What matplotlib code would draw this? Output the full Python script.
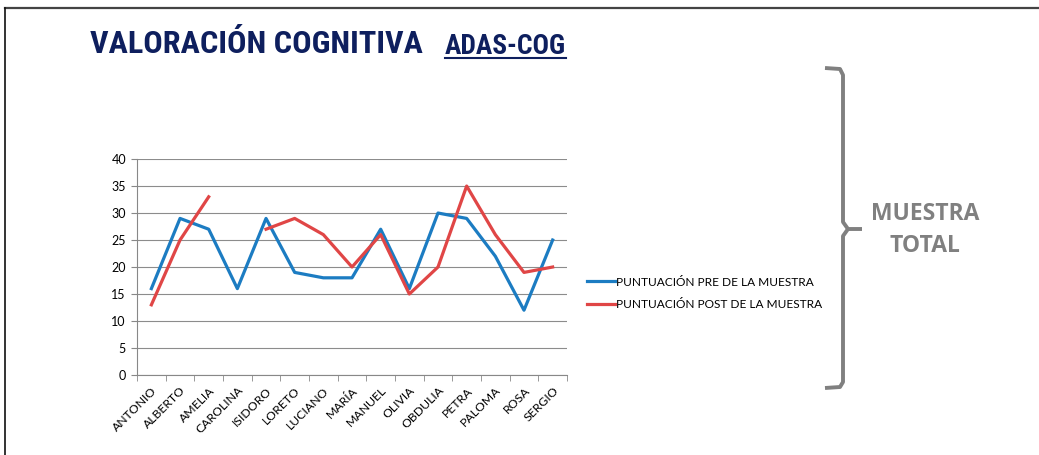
import matplotlib
matplotlib.use("Agg")
import matplotlib.pyplot as plt
import numpy as np
from matplotlib.lines import Line2D
from matplotlib import font_manager

categories = ["ANTONIO", "ALBERTO", "AMELIA", "CAROLINA", "ISIDORO", "LORETO",
              "LUCIANO", "MARÍA", "MANUEL", "OLIVIA", "OBDULIA", "PETRA",
              "PALOMA", "ROSA", "SERGIO"]
pre_values = [16, 29, 27, 16, 29, 19, 18, 18, 27, 16, 30, 29, 22, 12, 25]
post_values = [13, 25, 33, np.nan, 27, 29, 26, 20, 26, 15, 20, 35, 26, 19, 20]
y_ticks = [0, 5, 10, 15, 20, 25, 30, 35, 40]
pre_label = "PUNTUACIÓN PRE DE LA MUESTRA"
post_label = "PUNTUACIÓN POST DE LA MUESTRA"
title_main = "VALORACIÓN COGNITIVA"
title_sub = "ADAS-COG"
side_lines = ["MUESTRA", "TOTAL"]

body_font = ["Lato", "DejaVu Sans"]

# pick a condensed bold font if one is installed
names = {f.name for f in font_manager.fontManager.ttflist}
cond_entries = [f for f in font_manager.fontManager.ttflist
                if str(f.stretch) in ("condensed", "semi-condensed", "extra-condensed")]
title_family = None
title_stretch = "normal"
for cand in ["Liberation Sans Narrow", "Roboto Condensed", "DejaVu Sans Condensed",
             "Open Sans Condensed", "Arial Narrow"]:
    if cand in names:
        title_family = cand
        break
if title_family is None:
    for pref in ["Roboto", "Open Sans", "DejaVu Sans", "Liberation Sans"]:
        if any(f.name == pref for f in cond_entries):
            title_family = pref
            title_stretch = "condensed"
            break
if title_family is None:
    title_family = "Liberation Sans"

fig = plt.figure(figsize=(10.39, 4.55), dpi=100)
fig.patch.set_facecolor("white")

ax = fig.add_axes([0.1319, 0.1758, 0.4138, 0.4747])
x = np.arange(len(categories))
ax.plot(x, pre_values, color="#1C7CC2", lw=2.3, label=pre_label)
ax.plot(x, post_values, color="#E04646", lw=2.3, label=post_label)

ax.set_xlim(-0.5, len(categories) - 0.5)
ax.set_ylim(0, 40)
ax.set_yticks(y_ticks)
ax.set_yticklabels([str(v) for v in y_ticks], fontsize=9, family=body_font)
ax.set_xticks(x)
ax.set_xticklabels(categories, rotation=45, ha="right", rotation_mode="anchor",
                   fontsize=8.8, family=body_font)
ax.set_xticks(np.arange(-0.5, len(categories)), minor=True)
ax.tick_params(axis="x", which="major", length=0, pad=7)
ax.tick_params(axis="x", which="minor", length=4, color="#888888", direction="out")
ax.tick_params(axis="y", length=4, color="#888888", direction="out", pad=4)
ax.grid(axis="y", color="#8c8c8c", lw=0.8)
ax.set_axisbelow(True)
for s in ["top", "right"]:
    ax.spines[s].set_visible(False)
for s in ["left", "bottom"]:
    ax.spines[s].set_color("#888888")
    ax.spines[s].set_linewidth(0.8)

handles = [Line2D([0], [0], color="#1C7CC2", lw=2.3),
           Line2D([0], [0], color="#E04646", lw=2.3)]
fig.legend(handles, [pre_label, post_label], loc="center left",
           bbox_to_anchor=(0.555, 0.355), frameon=False,
           prop={"family": body_font, "size": 8.6},
           handlelength=2.3, handletextpad=0.1, labelspacing=1.0)

# Title, fitted to the reference width
navy = "#0E1F5E"
t1 = fig.text(90 / 1039, 1 - 44 / 455, title_main, fontsize=27, fontweight="bold",
              color=navy, family=title_family, stretch=title_stretch,
              ha="left", va="center")
t2 = fig.text(445 / 1039, 1 - 46 / 455, title_sub, fontsize=18, fontweight="bold",
              color=navy, family=title_family, stretch=title_stretch,
              ha="left", va="center")
fig.canvas.draw()
r = fig.canvas.get_renderer()
w1 = t1.get_window_extent(r).width
t1.set_fontsize(27 * 332 / w1)
w2 = t2.get_window_extent(r).width
t2.set_fontsize(18 * 121 / w2)
fig.add_artist(Line2D([445 / 1039, 566 / 1039], [1 - 58 / 455, 1 - 58 / 455],
                      color=navy, lw=1.5))

# Bracket
def P(px, py):
    return px / 1039, 1 - py / 455

bx = [P(825, 68), P(840, 69), P(843, 75), P(843, 222), P(848, 229), P(862, 229)]
bx2 = [P(848, 229), P(843, 236), P(843, 382), P(840, 387), P(825, 388)]
for pts in (bx, bx2):
    xs, ys = zip(*pts)
    fig.add_artist(Line2D(xs, ys, color="#808080", lw=2.8, solid_capstyle="butt",
                          solid_joinstyle="round"))

for txt, py in zip(side_lines, [214, 246]):
    fig.text(925 / 1039, 1 - py / 455, txt, fontsize=16.5, fontweight="bold",
             color="#808080", family=["Open Sans", "DejaVu Sans"],
             ha="center", va="center")

# frame lines
fig.add_artist(Line2D([5 / 1039, 1038 / 1039], [1 - 7.5 / 455, 1 - 7.5 / 455],
                      color="#444444", lw=1.6))
fig.add_artist(Line2D([5 / 1039, 5 / 1039], [1 - 7.5 / 455, 0], color="#111111", lw=1.2))

fig.savefig("out.png", dpi=100, facecolor="white")
